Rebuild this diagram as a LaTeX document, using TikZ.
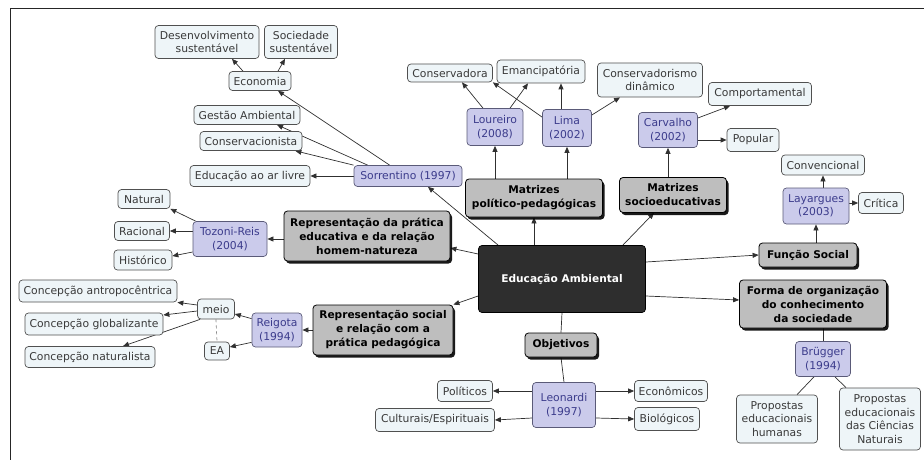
\documentclass[tikz,border=0pt]{standalone}
\usepackage{fontspec}
\setmainfont{DejaVu Sans}
\usetikzlibrary{arrows.meta,shadows,backgrounds}
\definecolor{lfill}{HTML}{EEF5F8}
\definecolor{lline}{HTML}{505050}
\definecolor{ltext}{HTML}{3A3A3A}
\definecolor{pfill}{HTML}{CBCBEB}
\definecolor{pline}{HTML}{5A5A78}
\definecolor{ptext}{HTML}{3C3C8C}
\definecolor{gfill}{HTML}{BEBEBE}
\definecolor{dfill}{HTML}{2E2E2E}
\definecolor{eline}{HTML}{303030}
\tikzset{
 wh/.style 2 args={minimum width=#1pt,minimum height=#2pt},
 base/.style={rounded corners=3.5pt,align=center,inner sep=1pt,font=\fontsize{10.8}{13.5}\selectfont,line width=0.7pt},
 lnode/.style={base,draw=lline,fill=lfill,text=ltext},
 pnode/.style={base,draw=pline,fill=pfill,text=ptext},
 gnode/.style={base,draw=black,fill=gfill,text=black,font=\fontsize{10.6}{14}\selectfont\bfseries,line width=0.8pt,
   drop shadow={shadow xshift=2pt,shadow yshift=-2.5pt,fill=black,opacity=0.9}},
 dnode/.style={base,draw=black,fill=dfill,text=white,font=\fontsize{10.6}{14}\selectfont\bfseries},
 arr/.style={draw=eline,line width=0.7pt,-{Triangle[length=6pt,width=5pt]}},
 ln/.style={draw=eline,line width=0.7pt}
}
\begin{document}
\begin{tikzpicture}[x=1pt,y=-1pt]
\useasboundingbox (0,0) rectangle (924,460);
\draw[line width=1pt,draw=black!85] (924,9) -- (10,9) -- (10,460);

% top-left cluster
\node[lnode,wh={104}{33}] (desv) at (207,42) {Desenvolvimento\\sustentável};
\node[lnode,wh={73}{33}] (socs) at (301,42) {Sociedade\\sustentável};
\node[lnode,wh={62}{19}] (econ) at (260,81) {Economia};
\node[lnode,wh={106}{19}] (gest) at (247,115) {Gestão Ambiental};
\node[lnode,wh={102}{19}] (consv) at (251,141) {Conservacionista};
\node[lnode,wh={120}{21}] (edar) at (250,176) {Educação ao ar livre};
\node[pnode,wh={108}{21}] (sorr) at (408,176) {Sorrentino (1997)};

% left middle
\node[lnode,wh={52}{19}] (natural) at (144,199) {Natural};
\node[lnode,wh={55}{19}] (racional) at (142,231) {Racional};
\node[lnode,wh={58}{20}] (historico) at (143,260) {Histórico};
\node[pnode,wh={74}{35}] (tozoni) at (230,239) {Tozoni-Reis\\(2004)};
\node[gnode,wh={166}{50}] (repprat) at (367,236) {Representação da prática\\educativa e da relação\\homem-natureza};

% left lower
\node[lnode,wh={158}{22}] (antrop) at (98,291) {Concepção antropocêntrica};
\node[lnode,wh={37}{20}] (meio) at (216,309) {meio};
\node[lnode,wh={138}{22}] (global) at (94,324) {Concepção globalizante};
\node[lnode,wh={130}{21}] (natur) at (90,357) {Concepção naturalista};
\node[lnode,wh={25}{18}] (ea) at (217,351) {EA};
\node[pnode,wh={50}{34}] (reigota) at (277,330) {Reigota\\(1994)};
\node[gnode,wh={140}{50}] (repsoc) at (383,330) {Representação social\\e relação com a\\prática pedagógica};

% bottom centre
\node[lnode,wh={55}{21}] (politicos) at (465,391) {Políticos};
\node[lnode,wh={119}{23}] (culturais) at (435,420) {Culturais/Espirituais};
\node[pnode,wh={63}{45}] (leonardi) at (564,405) {Leonardi\\(1997)};
\node[lnode,wh={73}{21}] (economicos) at (671,391) {Econômicos};
\node[lnode,wh={65}{23}] (biologicos) at (667,419) {Biológicos};
\node[gnode,wh={72}{24}] (objetivos) at (561,345) {Objetivos};

% centre
\node[dnode,wh={167}{67}] (edamb) at (562,279) {Educação Ambiental};

% right
\node[gnode,wh={98}{24}] (funcao) at (808,255) {Função Social};
\node[gnode,wh={147}{48}] (forma) at (813,304) {Forma de organização\\do conhecimento\\da sociedade};
\node[pnode,wh={55}{35}] (brugger) at (823,359) {Brügger\\(1994)};
\node[lnode,wh={81}{48}] (prophum) at (777,419) {Propostas\\educacionais\\humanas};
\node[lnode,wh={81}{62}] (propcn) at (880,419) {Propostas\\educacionais\\das Ciências\\Naturais};

% top
\node[lnode,wh={85}{18}] (conservadora) at (450,73) {Conservadora};
\node[lnode,wh={88}{23}] (emancip) at (541,71.5) {Emancipatória};
\node[lnode,wh={105}{34}] (consdin) at (650,80) {Conservadorismo\\dinâmico};
\node[lnode,wh={103}{23}] (comport) at (760,94) {Comportamental};
\node[pnode,wh={56}{37}] (loureiro) at (495,127) {Loureiro\\(2008)};
\node[pnode,wh={49}{37}] (lima) at (567,128) {Lima\\(2002)};
\node[pnode,wh={59}{35}] (carvalho) at (668,130) {Carvalho\\(2002)};
\node[lnode,wh={52}{23}] (popular) at (753,140) {Popular};
\node[lnode,wh={83}{20}] (convenc) at (823,165) {Convencional};
\node[pnode,wh={66}{36}] (layargues) at (816,206) {Layargues\\(2003)};
\node[lnode,wh={45}{21}] (critica) at (881,203) {Crítica};
\node[gnode,wh={137}{38}] (matpp) at (534,198) {Matrizes\\político-pedagógicas};
\node[gnode,wh={107}{35}] (matsoc) at (673,195) {Matrizes\\socioeducativas};

\begin{scope}[on background layer]
% from the centre
\draw[arr] (edamb.north -| matpp) -- (matpp.south);
\draw[arr] ([xshift=-23pt]edamb.north east) -- ([xshift=-19pt]matsoc.south);
\draw[arr] ([yshift=17pt]edamb.east) -- (funcao.west);
\draw[arr] ([yshift=-17pt]edamb.east) -- ([yshift=4pt]forma.west);
\draw[arr] ([yshift=25pt]edamb.west) -- ([yshift=-12pt]repprat.east);
\draw[arr] ([yshift=-17pt]edamb.west) -- (repsoc.north east);
\draw[arr] ([xshift=20pt]edamb.north west) -- ([xshift=20pt]sorr.south);
\draw[ln] (edamb.south) -- (objetivos.north);
\draw[ln] (objetivos.south) -- (leonardi.north);
% Leonardi
\draw[arr] (leonardi.west |- politicos) -- (politicos.east);
\draw[arr] ([yshift=-13pt]leonardi.west) -- (culturais.east);
\draw[arr] (leonardi.east |- economicos) -- (economicos.west);
\draw[arr] ([yshift=-13pt]leonardi.east) -- (biologicos.west);
% right side
\draw[ln] (forma.south -| brugger) -- (brugger.north);
\draw[ln] ([xshift=-9pt]brugger.south) -- ([xshift=20pt]prophum.north);
\draw[ln] ([xshift=12pt]brugger.south) -- ([xshift=-34pt]propcn.north);
\draw[arr] (funcao.north -| layargues) -- (layargues.south);
\draw[arr] (layargues.north -| convenc) -- (convenc.south);
\draw[arr] (layargues.east |- critica) -- (critica.west);
% matrizes
\draw[arr] (matsoc.north -| carvalho) -- (carvalho.south);
\draw[arr] ([yshift=12pt]carvalho.east) -- ([xshift=-30pt]comport.south);
\draw[arr] (carvalho.east |- popular) -- (popular.west);
\draw[arr] (matpp.north -| loureiro) -- (loureiro.south);
\draw[arr] (matpp.north -| lima) -- (lima.south);
\draw[arr] ([xshift=-12pt]loureiro.north) -- ([xshift=12pt]conservadora.south);
\draw[arr] ([xshift=15pt]loureiro.north) -- ([xshift=-13pt]emancip.south);
\draw[arr] ([yshift=-8pt]lima.north west) -- (conservadora.south east);
\draw[arr] ([xshift=-6pt]lima.north) -- ([xshift=20pt]emancip.south);
\draw[arr] ([yshift=13pt]lima.east) -- ([xshift=-30pt]consdin.south);
% Sorrentino
\draw[arr] (sorr.west) -- (edar.east);
\draw[arr] (sorr.north west) -- ([xshift=-7pt]consv.south east);
\draw[arr] ([xshift=14pt]sorr.north west) -- ([xshift=30pt]gest.south);
\draw[arr] ([xshift=36pt]sorr.north west) -- ([xshift=18pt]econ.south);
\draw[arr] ([xshift=-17pt]econ.north) -- ([xshift=25pt]desv.south);
\draw[arr] ([xshift=18pt]econ.north) -- ([xshift=-16pt]socs.south);
% Tozoni-Reis
\draw[arr] (repprat.west |- tozoni) -- (tozoni.east);
\draw[arr] ([xshift=3pt]tozoni.north west) -- (natural.south east);
\draw[arr] (tozoni.west |- racional) -- (racional.east);
\draw[arr] ([yshift=-13pt]tozoni.west) -- ([yshift=4pt]historico.east);
% Reigota
\draw[arr] (repsoc.west) -- (reigota.east);
\draw[arr] ([yshift=-6pt]reigota.north west) -- ([yshift=-5pt]meio.east);
\draw[arr] ([yshift=5pt]reigota.south west) -- ([yshift=4pt]ea.east);
\draw[arr] ([yshift=4pt]meio.west) -- (antrop.south east);
\draw[arr] ([yshift=-2pt]meio.west) -- ([yshift=9pt]global.east);
\draw[arr] ([xshift=3pt]meio.south west) -- ([xshift=33pt]natur.north);
\draw[draw=gray,line width=0.7pt,dashed] (meio.south) -- (ea.north);
\end{scope}
\end{tikzpicture}
\end{document}
